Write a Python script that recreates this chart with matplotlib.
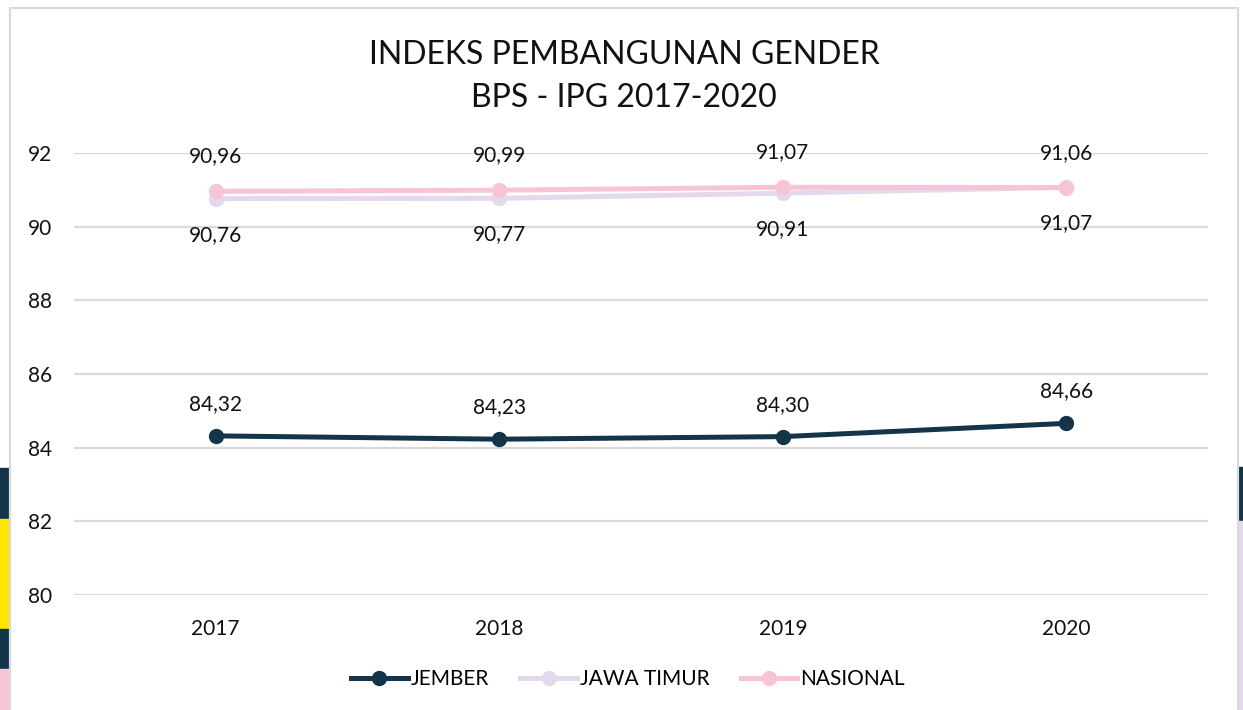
import matplotlib
matplotlib.use("Agg")
import matplotlib.pyplot as plt
from matplotlib.patches import Rectangle

plt.rcParams["font.family"] = ["Lato", "DejaVu Sans"]

years = ["2017", "2018", "2019", "2020"]
jember = [84.32, 84.23, 84.30, 84.66]
jawa_timur = [90.76, 90.77, 90.91, 91.07]
nasional = [90.96, 90.99, 91.07, 91.06]

C_JEMBER = "#143449"
C_JATIM = "#e4d8ec"
C_NAS = "#f6c4d6"
C_NAVY = "#12344a"
C_YELLOW = "#ffe600"

W, H = 1243, 710
fig = plt.figure(figsize=(W / 100, H / 100), dpi=100)


def fx(px):
    return px / W


def fy(py):
    return 1 - py / H


def band(x0, y_top, w, y_bot, color):
    fig.patches.append(Rectangle((fx(x0), fy(y_bot)), fx(w), (y_bot - y_top) / H,
                                 transform=fig.transFigure, color=color, zorder=-3))


# decorative background bands at the edges
band(0, 468, 10, 519, C_NAVY)
band(0, 519, 10, 629, C_YELLOW)
band(0, 629, 10, 669, C_NAVY)
band(0, 669, 10, 720, C_NAS)
band(1238, 467, 5, 521, C_NAVY)
band(1238, 521, 5, 720, C_JATIM)
# chart frame
fig.patches.append(Rectangle((fx(10), -0.05), fx(1238 - 10), fy(8) + 0.05, transform=fig.transFigure,
                             facecolor="white", edgecolor="#d9d9d9", linewidth=1.6, zorder=-2))

ax = fig.add_axes([fx(74), fy(595), fx(1208 - 74), (595 - 153) / H])
ax.set_facecolor("none")
x = list(range(len(years)))

ax.plot(x, jember, color=C_JEMBER, lw=3.6, marker="o", ms=10, label="JEMBER", zorder=3)
ax.plot(x, jawa_timur, color=C_JATIM, lw=3.6, marker="o", ms=10, label="JAWA TIMUR", zorder=3)
ax.plot(x, nasional, color=C_NAS, lw=3.6, marker="o", ms=10, label="NASIONAL", zorder=4)

for xi, v in zip(x, jember):
    ax.annotate(f"{v:.2f}".replace(".", ","), (xi, v), xytext=(0, 23), textcoords="offset points",
                ha="center", va="center", fontsize=15, color="#111111")
for xi, v in zip(x, nasional):
    ax.annotate(f"{v:.2f}".replace(".", ","), (xi, v), xytext=(0, 25), textcoords="offset points",
                ha="center", va="center", fontsize=15, color="#111111")
for xi, v in zip(x, jawa_timur):
    ax.annotate(f"{v:.2f}".replace(".", ","), (xi, v), xytext=(0, -26), textcoords="offset points",
                ha="center", va="center", fontsize=15, color="#111111")

ax.set_xlim(-0.5, 3.5)
ax.set_ylim(80, 92)
ax.set_yticks(range(80, 93, 2))
ax.set_xticks(x)
ax.set_xticklabels(years)
ax.tick_params(length=0, labelsize=15, colors="#111111")
ax.tick_params(axis="y", pad=16)
ax.tick_params(axis="x", pad=17)
ax.grid(axis="y", color="#d9d9d9", lw=1.6)
ax.set_axisbelow(True)
for s in ax.spines.values():
    s.set_visible(False)

fig.text(fx(624), fy(55), "INDEKS PEMBANGUNAN GENDER", ha="center", va="center", fontsize=23, color="#111111")
fig.text(fx(624), fy(98), "BPS - IPG 2017-2020", ha="center", va="center", fontsize=23, color="#111111")

fig.legend(loc="center", bbox_to_anchor=(fx(628), fy(679)), ncol=3, frameon=False, fontsize=15,
           handlelength=2.7, columnspacing=1.5, handletextpad=0.15)

fig.savefig("out.png", dpi=100)
